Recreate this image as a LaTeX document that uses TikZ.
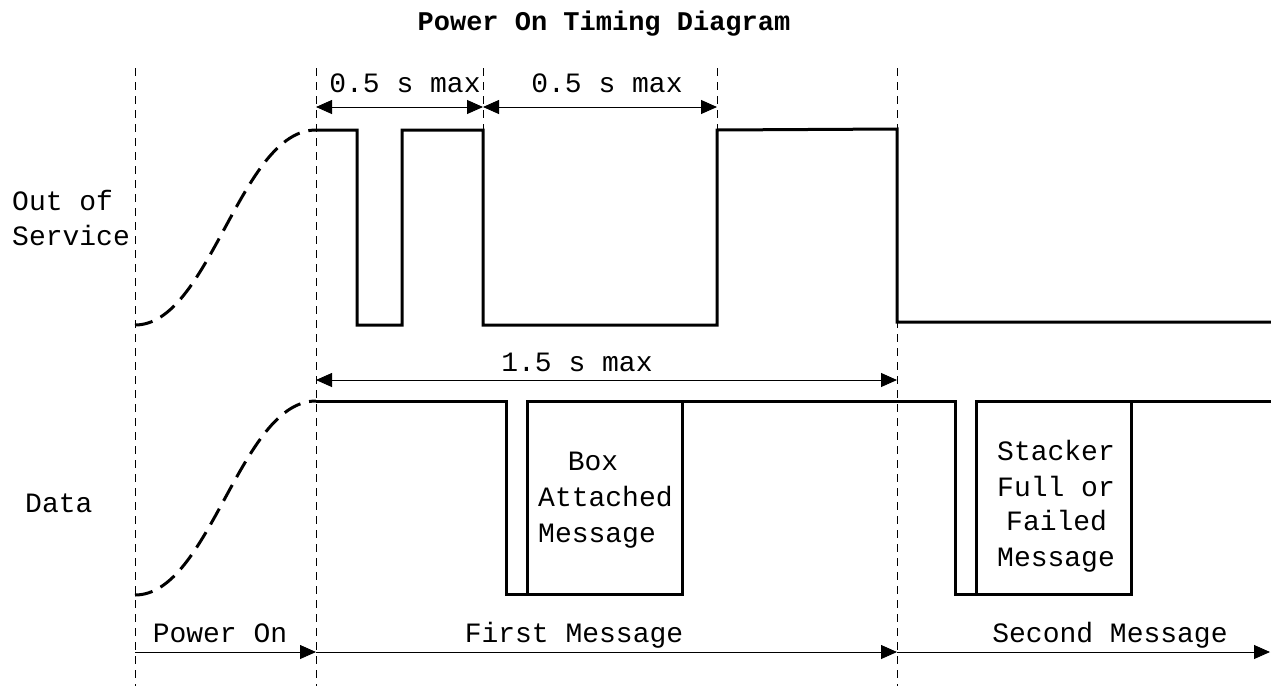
\documentclass[tikz,border=0pt]{standalone}
\usepackage{fontspec}
\newfontfamily\lblfont{Liberation Mono}
\usetikzlibrary{arrows.meta}
\begin{document}
\begin{tikzpicture}[x=1pt,y=-1pt,
  guide/.style={line width=0.8pt, dash pattern=on 8pt off 6pt},
  sig/.style={line width=3pt, line join=miter},
  curvesig/.style={line width=3pt, dash pattern=on 18pt off 9pt},
  dimarrow/.style={line width=0.9pt, {Triangle[length=16pt,width=14pt]}-{Triangle[length=16pt,width=14pt]}},
  spanarrow/.style={line width=0.9pt, -{Triangle[length=16pt,width=14pt]}},
  lbl/.style={font=\lblfont\fontsize{28}{34}\selectfont, inner sep=0pt, anchor=base},
  ttl/.style={font=\lblfont\bfseries\fontsize{27}{32}\selectfont, inner sep=0pt, anchor=base}]
\useasboundingbox (0,0) rectangle (1271,686);

% guide lines
\coordinate (vA1) at (135,68);  \coordinate (vA2) at (135,686);
\coordinate (vB1) at (316,68);  \coordinate (vB2) at (316,686);
\coordinate (vC1) at (483,68);  \coordinate (vC2) at (483,130);
\coordinate (vD1) at (717,68);  \coordinate (vD2) at (717,130);
\coordinate (vE1) at (897,68);  \coordinate (vE2) at (897,686);
\draw[guide] (vA1) -- (vA2);
\draw[guide] (vB1) -- (vB2);
\draw[guide] (vC1) -- (vC2);
\draw[guide] (vD1) -- (vD2);
\draw[guide] (vE1) -- (vE2);

% dimension arrows
\coordinate (d1a) at (316,107); \coordinate (d1b) at (483,107); \coordinate (d2b) at (717,107);
\draw[dimarrow] (d1a) -- (d1b);
\draw[dimarrow] (d1b) -- (d2b);
\coordinate (d3a) at (316,380); \coordinate (d3b) at (897,380);
\draw[dimarrow] (d3a) -- (d3b);
\coordinate (b0) at (135,652); \coordinate (b1) at (316,652);
\coordinate (b2) at (897,652); \coordinate (b3) at (1270,652);
\draw[spanarrow] (b0) -- (b1);
\draw[spanarrow] (b1) -- (b2);
\draw[spanarrow] (b2) -- (b3);

% Out of Service signal
\draw[curvesig] (135,325) .. controls (210,325) and (240,130) .. (316,130);
\draw[sig] (316,130) -- (357,130) -- (357,325) -- (402,325) -- (402,130) -- (483,130)
  -- (483,325) -- (717,325) -- (717,130) -- (897,129) -- (897,322) -- (1275,322);

% Data signal
\draw[curvesig] (135,595) .. controls (210,595) and (240,401) .. (316,401);
\draw[sig] (316,401) -- (506,401) -- (506,594) -- (682,594) -- (682,401) -- (955,401)
  -- (955,594) -- (1131,594) -- (1131,401) -- (1275,401);
\draw[sig] (527,594) -- (527,401) -- (682,401);
\draw[sig] (976,594) -- (976,401) -- (1131,401);

% texts
\node[ttl] (title) at (604,30) {Power On Timing Diagram};
\node[lbl] (t05a) at (405,92) {0.5 s max};
\node[lbl] (t05b) at (607,92) {0.5 s max};
\node[lbl] (t15) at (577,371) {1.5 s max};
\node[lbl, anchor=base west] (oos1) at (12,210) {Out of};
\node[lbl, anchor=base west] (oos2) at (12,245) {Service};
\node[lbl, anchor=base west] (data) at (25,512) {Data};
\node[lbl] (bx1) at (593,470) {Box};
\node[lbl, anchor=base west] (bx2) at (538,506) {Attached};
\node[lbl, anchor=base west] (bx3) at (538,542) {Message};
\node[lbl, anchor=base west] (sf1) at (997,460) {Stacker};
\node[lbl, anchor=base west] (sf2) at (997,496) {Full or};
\node[lbl, anchor=base west] (sf3) at (1006,530) {Failed};
\node[lbl, anchor=base west] (sf4) at (997,566) {Message};
\node[lbl] (pon) at (220,642) {Power On};
\node[lbl] (fm) at (574,642) {First Message};
\node[lbl] (sm) at (1110,642) {Second Message};
\end{tikzpicture}
\end{document}
